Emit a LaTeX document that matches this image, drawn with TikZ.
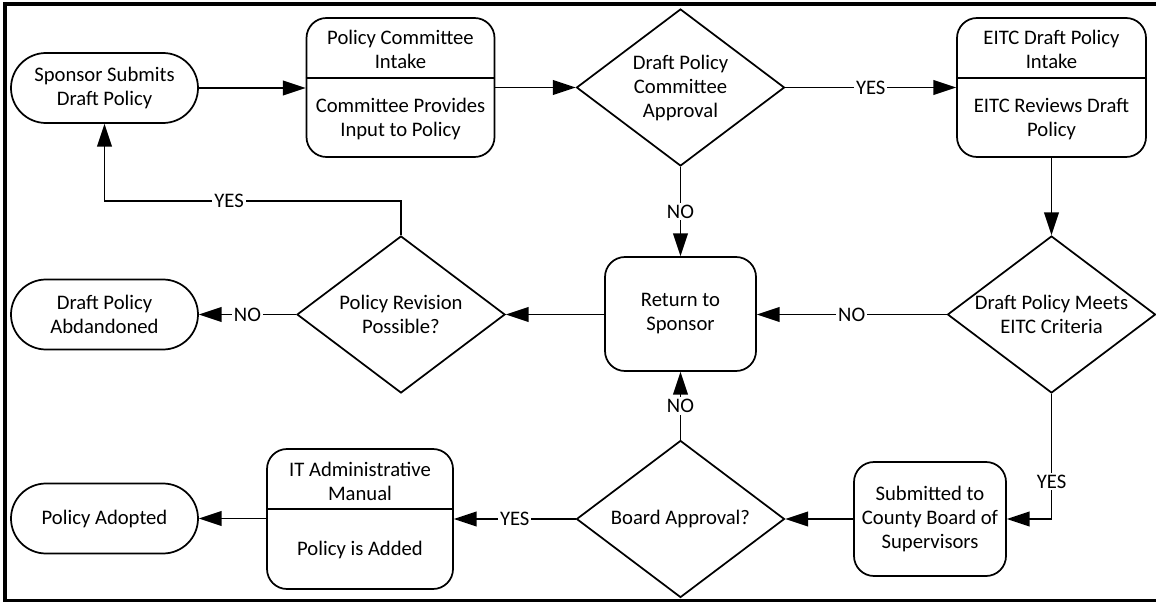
\documentclass[tikz,border=0pt]{standalone}
\usepackage{fontspec}
\setmainfont{Carlito}
\usetikzlibrary{shapes.geometric,arrows.meta}
\begin{document}
\begin{tikzpicture}[x=0.75pt,y=-0.75pt,
  every node/.style={font=\fontsize{15.5}{18}\selectfont, align=center},
  ln/.style={line width=1.3pt},
  arr/.style={line width=1.3pt,-{Triangle[length=17pt,width=11pt]}},
  lbl/.style={fill=white,inner sep=1.5pt},
  txt/.style={inner sep=0pt},
  term/.style={draw,line width=1.3pt,rectangle,rounded corners=26.25pt,minimum width=140.25pt,minimum height=52.5pt,inner sep=0pt},
  box/.style={draw,line width=1.3pt,rectangle,rounded corners=15pt,inner sep=0pt},
  dia/.style={draw,line width=1.3pt,diamond,inner sep=0pt,minimum width=156pt,minimum height=117.75pt}
]
\useasboundingbox (0,0) rectangle (1156,602);
% frame
\coordinate (fTL) at (3,4);
\coordinate (fTR) at (1156,4);
\coordinate (fLT) at (5,2);
\coordinate (fLB) at (5,602);
\coordinate (fBL) at (3,600.5);
\coordinate (fBR) at (1156,600.5);
\draw[line width=3pt] (fTL) -- (fTR);
\draw[line width=3pt] (fLT) -- (fLB);
\draw[line width=2.25pt] (fBL) -- (fBR);

% row 1
\node[term] (SP) at (104.5,88) {Sponsor Submits\\Draft Policy};
\node[box,minimum width=141pt,minimum height=104.25pt] (PC) at (400.5,87.5) {};
\coordinate (pcd) at (0,78);
\draw[ln] (PC.west|-pcd) -- (PC.east|-pcd);
\node[txt] (PCa) at (400.5,49) {Policy Committee\\Intake};
\node[txt] (PCb) at (400.5,119) {Committee Provides\\Input to Policy};
\node[dia] (D1) at (680.5,87.5) {};
\node[txt] (D1t) at (680.5,87.5) {Draft Policy\\Committee\\Approval};
\node[box,minimum width=141.75pt,minimum height=104.25pt] (EI) at (1051.5,87.5) {};
\draw[ln] (EI.west|-pcd) -- (EI.east|-pcd);
\node[txt] (EIa) at (1051.5,49) {EITC Draft Policy\\Intake};
\node[txt] (EIb) at (1051.5,119) {EITC Reviews Draft\\Policy};

% row 2
\node[term] (DA) at (104.5,314.5) {Draft Policy\\Abdandoned};
\node[dia] (PR) at (401,314.5) {};
\node[txt] (PRt) at (401,314.5) {Policy Revision\\Possible?};
\node[box,minimum width=113.25pt,minimum height=85.5pt] (RS) at (680.5,314) {Return to\\Sponsor};
\node[dia] (D2) at (1051.5,314.5) {};
\node[txt] (D2t) at (1051.5,314.5) {Draft Policy Meets\\EITC Criteria};

% row 3
\node[term] (PA) at (104.5,518.5) {Policy Adopted};
\node[box,minimum width=139.5pt,minimum height=105pt] (IT) at (360,519) {};
\coordinate (itd) at (0,509);
\draw[ln] (IT.west|-itd) -- (IT.east|-itd);
\node[txt] (ITa) at (360,481) {IT Administrative\\Manual};
\node[txt] (ITb) at (360,550) {Policy is Added};
\node[dia] (BA) at (680.5,519) {};
\node[txt] (BAt) at (680.5,519) {Board Approval?};
\node[box,minimum width=114pt,minimum height=85.5pt] (SB) at (930,519) {Submitted to\\County Board of\\Supervisors};

% connectors
\draw[arr] (SP.east) -- (PC.west|-SP.east);
\draw[arr] (PC.east|-D1.west) -- (D1.west);
\draw[arr] (D1.east) -- node[lbl]{YES} (EI.west|-D1.east);
\draw[arr] (EI.south) -- (D2.north);
\draw[arr] (D2.west) -- node[lbl]{NO} (RS.east|-D2.west);
\draw[arr] (D1.south) -- node[lbl]{NO} (RS.north);
\draw[arr] (D2.south) |- node[lbl,pos=0.35]{YES} (SB.east);
\draw[arr] (SB.west) -- (BA.east|-SB.west);
\draw[arr] (BA.north) -- node[lbl]{NO} (RS.south);
\draw[arr] (BA.west) -- node[lbl]{YES} (IT.east|-BA.west);
\draw[arr] (IT.west|-PA.east) -- (PA.east);
\draw[arr] (RS.west|-PR.east) -- (PR.east);
\draw[arr] (PR.west) -- node[lbl]{NO} (DA.east);
\coordinate (yc) at (0,201);
\draw[arr] (PR.north) |- node[lbl,pos=0.79]{YES} (SP.south|-yc) -- (SP.south);
\end{tikzpicture}
\end{document}
